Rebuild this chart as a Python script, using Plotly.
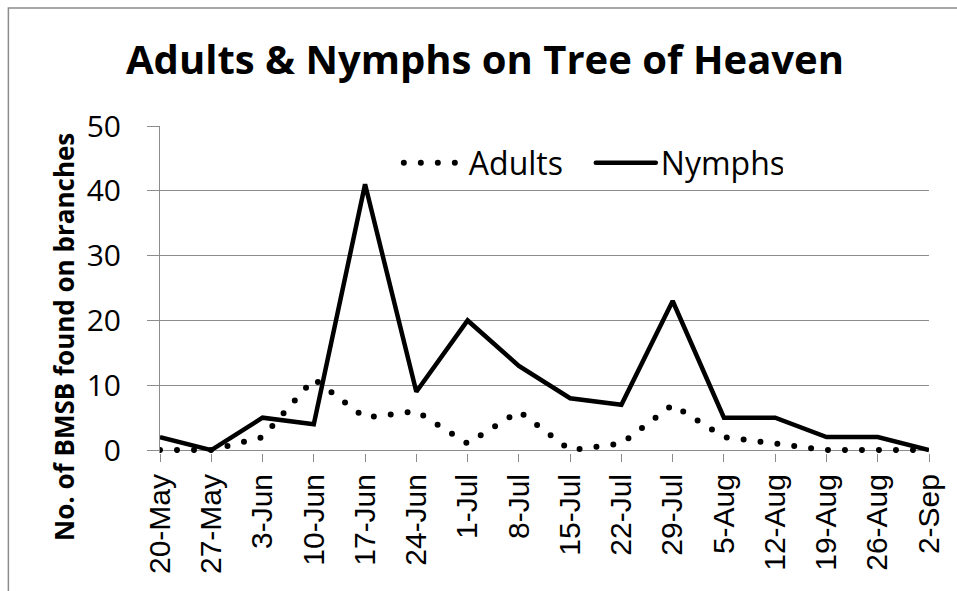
import plotly.graph_objects as go

dates = ["20-May", "27-May", "3-Jun", "10-Jun", "17-Jun", "24-Jun", "1-Jul", "8-Jul",
         "15-Jul", "22-Jul", "29-Jul", "5-Aug", "12-Aug", "19-Aug", "26-Aug", "2-Sep"]
adults = [0, 0, 2, 11, 5, 6, 1, 6, 0, 1, 7, 2, 1, 0, 0, 0]
nymphs = [2, 0, 5, 4, 41, 9, 20, 13, 8, 7, 23, 5, 5, 2, 2, 0]
y_ticks = [0, 10, 20, 30, 40, 50]

GRID = "#8c8c8c"
W, H = 957, 591
ML, MR, MT, MB = 160, 21, 126, 138
PW, PH = W - ML - MR, H - MT - MB

fig = go.Figure()
fig.add_trace(go.Scatter(
    x=dates, y=adults, name="Adults", mode="lines", uid="adults",
    line=dict(color="black", width=6, dash="0px,17px"),
))
fig.add_trace(go.Scatter(
    x=dates, y=nymphs, name="Nymphs", mode="lines", uid="nymphs",
    line=dict(color="black", width=4.5),
))

def px_to_paper_x(p):
    return (p - ML) / PW

def px_to_paper_y(p):
    return (H - MB - p) / PH

fig.update_layout(
    width=W, height=H,
    margin=dict(l=ML, r=MR, t=MT, b=MB),
    paper_bgcolor="white", plot_bgcolor="white",
    showlegend=True,
    title=dict(
        text="<b>Adults &amp; Nymphs on Tree of Heaven</b>",
        font=dict(family="Open Sans", size=40, color="black"),
        x=485 / W, xanchor="center", xref="container",
        y=1 - 60 / H, yanchor="middle", yref="container",
    ),
    legend=dict(
        orientation="h",
        x=px_to_paper_x(401), xanchor="left",
        y=px_to_paper_y(163), yanchor="middle",
        font=dict(family="Open Sans", size=32, color="black"),
        bgcolor="rgba(0,0,0,0)",
        itemwidth=60,
        entrywidth=117, entrywidthmode="pixels",
        traceorder="normal",
    ),
    xaxis=dict(
        type="category", range=[0, len(dates) - 1],
        showgrid=False, showline=False, zeroline=False,
        ticks="outside", ticklen=8, tickcolor=GRID, tickwidth=1,
        tickangle=-90,
        tickfont=dict(family="Liberation Sans", size=30, color="black"),
        ticklabelstandoff=0,
    ),
    yaxis=dict(
        range=[-0.45, 50], tickvals=y_ticks,
        showgrid=True, gridcolor=GRID, gridwidth=1,
        zeroline=True, zerolinecolor=GRID, zerolinewidth=1,
        showline=True, linecolor=GRID, linewidth=1,
        ticks="outside", ticklen=12, tickcolor=GRID, tickwidth=1,
        tickfont=dict(family="Open Sans", size=30, color="black"),
        ticklabelstandoff=20,
    ),
    annotations=[dict(
        text="<b>No. of BMSB found on branches</b>",
        xref="paper", yref="paper",
        x=px_to_paper_x(63), y=px_to_paper_y(337),
        xanchor="center", yanchor="middle",
        textangle=-90, showarrow=False,
        font=dict(family="Open Sans", size=26, color="black"),
    )],
    shapes=[dict(
        type="rect", xref="paper", yref="paper",
        x0=px_to_paper_x(7), x1=px_to_paper_x(1000),
        y0=px_to_paper_y(700), y1=px_to_paper_y(8),
        line=dict(color=GRID, width=1.5), fillcolor="rgba(0,0,0,0)",
        layer="below",
    )],
)

post = """
document.body.style.margin = '0';
var s = document.createElement('style');
s.textContent = 'body{margin:0;} .traceadults .js-line, .legendlines path {stroke-linecap: round;}';
document.head.appendChild(s);
"""
fig.write_html("out.html", post_script=post, config={"displayModeBar": False})
